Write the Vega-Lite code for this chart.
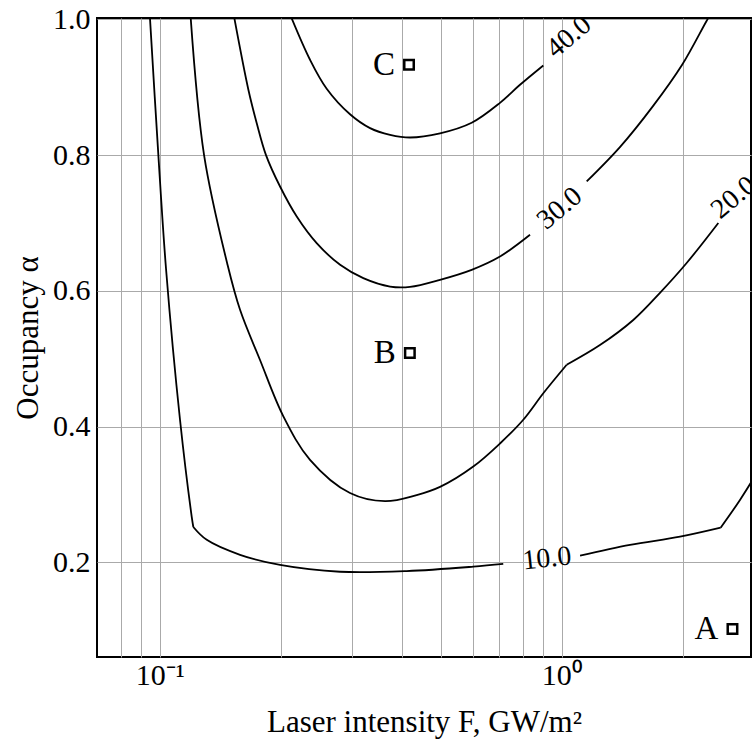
{
  "$schema": "https://vega.github.io/schema/vega-lite/v6.json",
  "width": 654,
  "height": 639,
  "autosize": {"type": "none"},
  "padding": {"left": 97, "top": 18, "right": 1, "bottom": 90},
  "background": "white",
  "config": {
    "font": "Liberation Serif",
    "view": {"stroke": "#000", "strokeWidth": 2},
    "axis": {
      "domain": false,
      "ticks": false,
      "grid": true,
      "gridColor": "#aaaaaa",
      "gridWidth": 1,
      "labelFont": "Liberation Serif",
      "labelFontSize": 30,
      "labelColor": "#000",
      "labelFlush": false,
      "labelOverlap": false,
      "labelBound": false,
      "titleFont": "Liberation Serif",
      "titleFontSize": 31,
      "titleFontWeight": "normal",
      "titleColor": "#000"
    }
  },
  "datasets": {
    "contours": [
      {"seg": "10a", "i": 0, "F": 0.0945, "alpha": 1.004},
      {"seg": "10a", "i": 1, "F": 0.0992, "alpha": 0.800},
      {"seg": "10a", "i": 2, "F": 0.1037, "alpha": 0.631},
      {"seg": "10a", "i": 3, "F": 0.1123, "alpha": 0.410},
      {"seg": "10a", "i": 4, "F": 0.1201, "alpha": 0.267},
      {"seg": "10a", "i": 5, "F": 0.1212, "alpha": 0.252},
      {"seg": "10b", "i": 0, "F": 0.1212, "alpha": 0.252},
      {"seg": "10b", "i": 1, "F": 0.1309, "alpha": 0.233},
      {"seg": "10b", "i": 2, "F": 0.1584, "alpha": 0.211},
      {"seg": "10b", "i": 3, "F": 0.1992, "alpha": 0.196},
      {"seg": "10b", "i": 4, "F": 0.2810, "alpha": 0.186},
      {"seg": "10b", "i": 5, "F": 0.4115, "alpha": 0.187},
      {"seg": "10b", "i": 6, "F": 0.6026, "alpha": 0.1935},
      {"seg": "10b", "i": 7, "F": 0.7155, "alpha": 0.1975},
      {"seg": "10c", "i": 0, "F": 1.111, "alpha": 0.2097},
      {"seg": "10c", "i": 1, "F": 1.479, "alpha": 0.2255},
      {"seg": "10c", "i": 2, "F": 1.970, "alpha": 0.2377},
      {"seg": "10c", "i": 3, "F": 2.486, "alpha": 0.251},
      {"seg": "10d", "i": 0, "F": 2.486, "alpha": 0.251},
      {"seg": "10d", "i": 1, "F": 2.777, "alpha": 0.2918},
      {"seg": "10d", "i": 2, "F": 3.113, "alpha": 0.339},
      {"seg": "20a", "i": 0, "F": 0.1191, "alpha": 1.011},
      {"seg": "20a", "i": 1, "F": 0.1289, "alpha": 0.800},
      {"seg": "20a", "i": 2, "F": 0.1475, "alpha": 0.638},
      {"seg": "20a", "i": 3, "F": 0.1584, "alpha": 0.572},
      {"seg": "20a", "i": 4, "F": 0.1776, "alpha": 0.498},
      {"seg": "20a", "i": 5, "F": 0.2030, "alpha": 0.415},
      {"seg": "20a", "i": 6, "F": 0.2365, "alpha": 0.351},
      {"seg": "20a", "i": 8, "F": 0.2974, "alpha": 0.302},
      {"seg": "20a", "i": 9, "F": 0.3634, "alpha": 0.290},
      {"seg": "20a", "i": 10, "F": 0.4357, "alpha": 0.299},
      {"seg": "20a", "i": 11, "F": 0.4981, "alpha": 0.311},
      {"seg": "20a", "i": 12, "F": 0.6026, "alpha": 0.341},
      {"seg": "20a", "i": 13, "F": 0.7022, "alpha": 0.375},
      {"seg": "20a", "i": 14, "F": 0.8025, "alpha": 0.410},
      {"seg": "20a", "i": 15, "F": 0.9000, "alpha": 0.449},
      {"seg": "20a", "i": 16, "F": 1.029, "alpha": 0.491},
      {"seg": "20b", "i": 0, "F": 1.029, "alpha": 0.491},
      {"seg": "20b", "i": 1, "F": 1.245, "alpha": 0.520},
      {"seg": "20b", "i": 2, "F": 1.507, "alpha": 0.557},
      {"seg": "20b", "i": 3, "F": 1.756, "alpha": 0.597},
      {"seg": "20b", "i": 4, "F": 2.046, "alpha": 0.641},
      {"seg": "20b", "i": 5, "F": 2.453, "alpha": 0.700},
      {"seg": "30a", "i": 0, "F": 0.1523, "alpha": 1.011},
      {"seg": "30a", "i": 1, "F": 0.1662, "alpha": 0.896},
      {"seg": "30a", "i": 2, "F": 0.1743, "alpha": 0.847},
      {"seg": "30a", "i": 3, "F": 0.1838, "alpha": 0.800},
      {"seg": "30a", "i": 4, "F": 0.1992, "alpha": 0.7537},
      {"seg": "30a", "i": 5, "F": 0.2192, "alpha": 0.7095},
      {"seg": "30a", "i": 6, "F": 0.2457, "alpha": 0.6703},
      {"seg": "30a", "i": 7, "F": 0.2810, "alpha": 0.6383},
      {"seg": "30a", "i": 8, "F": 0.3209, "alpha": 0.6187},
      {"seg": "30a", "i": 9, "F": 0.3741, "alpha": 0.6063},
      {"seg": "30a", "i": 10, "F": 0.4195, "alpha": 0.6058},
      {"seg": "30a", "i": 11, "F": 0.4981, "alpha": 0.6162},
      {"seg": "30a", "i": 12, "F": 0.5971, "alpha": 0.6309},
      {"seg": "30a", "i": 13, "F": 0.7022, "alpha": 0.6505},
      {"seg": "30a", "i": 14, "F": 0.8341, "alpha": 0.6825},
      {"seg": "30b", "i": 0, "F": 1.154, "alpha": 0.7611},
      {"seg": "30b", "i": 1, "F": 1.396, "alpha": 0.8117},
      {"seg": "30b", "i": 2, "F": 1.687, "alpha": 0.8721},
      {"seg": "30b", "i": 3, "F": 1.992, "alpha": 0.9327},
      {"seg": "30b", "i": 4, "F": 2.295, "alpha": 0.998},
      {"seg": "30b", "i": 5, "F": 2.366, "alpha": 1.011},
      {"seg": "40a", "i": 0, "F": 0.2097, "alpha": 1.011},
      {"seg": "40a", "i": 1, "F": 0.2365, "alpha": 0.9405},
      {"seg": "40a", "i": 2, "F": 0.2602, "alpha": 0.8978},
      {"seg": "40a", "i": 3, "F": 0.2974, "alpha": 0.8602},
      {"seg": "40a", "i": 4, "F": 0.3336, "alpha": 0.8398},
      {"seg": "40a", "i": 5, "F": 0.3741, "alpha": 0.8299},
      {"seg": "40a", "i": 6, "F": 0.4195, "alpha": 0.8259},
      {"seg": "40a", "i": 7, "F": 0.4981, "alpha": 0.8320},
      {"seg": "40a", "i": 8, "F": 0.5971, "alpha": 0.8476},
      {"seg": "40a", "i": 9, "F": 0.7022, "alpha": 0.8770},
      {"seg": "40a", "i": 10, "F": 0.7875, "alpha": 0.9036},
      {"seg": "40a", "i": 11, "F": 0.9000, "alpha": 0.9321}
    ],
    "levels": [
      {"level": 40, "F": 1.043, "alpha": 0.974},
      {"level": 30, "F": 0.990, "alpha": 0.721},
      {"level": 20, "F": 2.683, "alpha": 0.737},
      {"level": 10, "F": 0.919, "alpha": 0.205}
    ],
    "points": [
      {"label": "C", "F": 0.417, "alpha": 0.933},
      {"label": "B", "F": 0.419, "alpha": 0.5085},
      {"label": "A", "F": 2.66, "alpha": 0.1016}
    ]
  },
  "encoding": {
    "x": {
      "field": "F",
      "type": "quantitative",
      "scale": {"type": "log", "domain": [0.0698, 2.958], "nice": false},
      "axis": {
        "values": [0.08, 0.09, 0.1, 0.2, 0.3, 0.4, 0.5, 0.6, 0.7, 0.8, 0.9, 1, 2],
        "labelExpr": "datum.value == 0.1 ? '10⁻¹' : (datum.value == 1 ? '10⁰' : '')",
        "title": "Laser intensity F, GW/m²",
        "labelPadding": 3,
        "titlePadding": 17
      }
    },
    "y": {
      "field": "alpha",
      "type": "quantitative",
      "scale": {"domain": [0.0604, 1.002], "nice": false, "zero": false},
      "axis": {
        "values": [0.2, 0.4, 0.6, 0.8, 1.0],
        "format": ".1f",
        "title": "Occupancy α",
        "labelPadding": 7,
        "titlePadding": 8
      }
    }
  },
  "layer": [
    {
      "data": {"name": "contours"},
      "mark": {"type": "line", "clip": true, "color": "#000", "strokeWidth": 1.8, "interpolate": "catmull-rom"},
      "encoding": {
        "detail": {"field": "seg", "type": "nominal"},
        "order": {"field": "i", "type": "quantitative"}
      }
    },
    {
      "data": {"name": "levels"},
      "transform": [{"filter": "datum.level != 10"}],
      "mark": {"type": "text", "clip": true, "angle": 320, "fontSize": 28, "align": "center", "baseline": "middle", "color": "#000"},
      "encoding": {"text": {"field": "level", "type": "quantitative", "format": ".1f"}}
    },
    {
      "data": {"name": "levels"},
      "transform": [{"filter": "datum.level == 10"}],
      "mark": {"type": "text", "clip": true, "angle": 354, "fontSize": 28, "align": "center", "baseline": "middle", "color": "#000"},
      "encoding": {"text": {"field": "level", "type": "quantitative", "format": ".1f"}}
    },
    {
      "data": {"name": "points"},
      "mark": {"type": "point", "shape": "square", "size": 90, "filled": false, "fill": "#fff", "fillOpacity": 1, "stroke": "#000", "strokeWidth": 2.5, "opacity": 1}
    },
    {
      "data": {"name": "points"},
      "mark": {"type": "text", "fontSize": 33, "align": "right", "baseline": "middle", "dx": -14, "color": "#000"},
      "encoding": {"text": {"field": "label", "type": "nominal"}}
    }
  ]
}
